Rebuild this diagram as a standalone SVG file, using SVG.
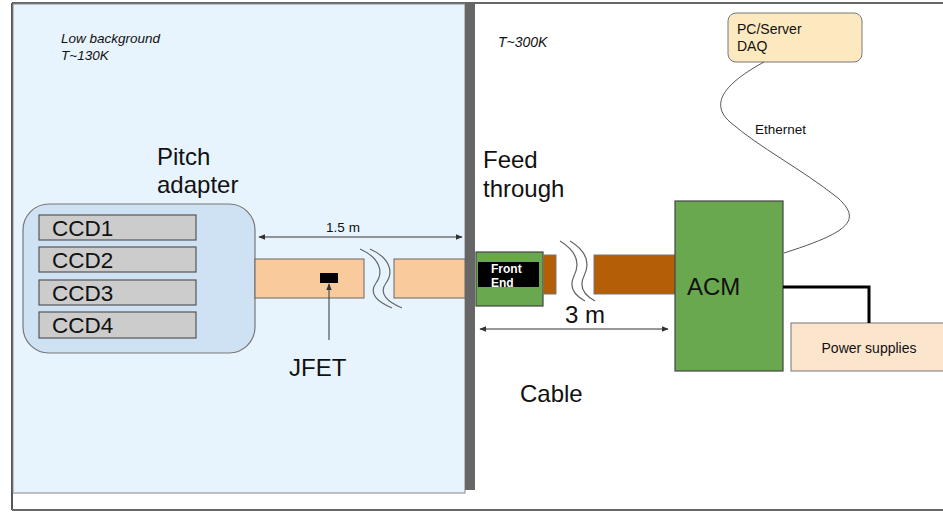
<svg xmlns="http://www.w3.org/2000/svg" width="943" height="512" viewBox="0 0 943 512">
<style>
text{font-family:"Liberation Sans",Arial,sans-serif;fill:#111}
.big{font-size:24px}
.it{font-size:13.5px;font-style:italic}
.sm{font-size:14px}
.ccd{fill:#cccccc;stroke:#555;stroke-width:1.2}
.ccdt{font-size:22.5px}
.cab{fill:#f9cb9c;stroke:#666;stroke-width:1}
.brown{fill:#b45f06;stroke:#777;stroke-width:1}
.green{fill:#6aa84f;stroke:#444;stroke-width:1.2}
.sq{fill:none;stroke:#666;stroke-width:1.2}
.dim{stroke:#333;stroke-width:1;fill:none}
</style>
<defs>
<marker id="ah" viewBox="0 0 10 10" refX="9" refY="5" markerWidth="7" markerHeight="7" orient="auto-start-reverse" markerUnits="userSpaceOnUse">
<path d="M0,1 L10,5 L0,9 z" fill="#333"/>
</marker>
</defs>
<rect width="943" height="512" fill="#fff"/>
<g id="frame">
<line x1="12" y1="3" x2="943" y2="3" stroke="#666" stroke-width="2"/>
<line x1="12" y1="3" x2="12" y2="510" stroke="#555" stroke-width="2"/>
<line x1="12" y1="510" x2="943" y2="510" stroke="#666" stroke-width="2"/>
</g>
<g id="cold-zone">
<rect x="13" y="4" width="452" height="489" fill="#e8f4fd" stroke="#888" stroke-width="1"/>
<text class="it" x="61" y="43">Low background</text>
<text class="it" x="61" y="60">T~130K</text>
</g>
<g id="wall">
<rect x="465" y="3" width="10" height="487" fill="#666"/>
</g>
<text class="it" x="498" y="47" style="font-size:14px">T~300K</text>
<g id="pitch-adapter">
<text class="big" x="157" y="165">Pitch</text>
<text class="big" x="157" y="193">adapter</text>
<rect x="23" y="204" width="232" height="149" rx="26" fill="#cfe2f3" stroke="#777" stroke-width="1.2"/>
</g>
<g id="ccd1"><rect class="ccd" x="39" y="215" width="157" height="25"/><text class="ccdt" x="52" y="236">CCD1</text></g>
<g id="ccd2"><rect class="ccd" x="39" y="247" width="157" height="25"/><text class="ccdt" x="52" y="268">CCD2</text></g>
<g id="ccd3"><rect class="ccd" x="39" y="280" width="157" height="25"/><text class="ccdt" x="52" y="301">CCD3</text></g>
<g id="ccd4"><rect class="ccd" x="39" y="312" width="157" height="26"/><text class="ccdt" x="52" y="333">CCD4</text></g>
<g id="cold-cable">
<rect class="cab" x="255" y="259" width="109" height="39"/>
<rect class="cab" x="394" y="259" width="71" height="39"/>
<path class="sq" d="M360,249 C380,258 384,272 376,283 C368,294 378,302 392,308"/>
<path class="sq" d="M370,249 C390,258 394,272 386,283 C378,294 388,302 402,308"/>
</g>
<g id="jfet">
<rect x="320" y="273" width="18" height="10" fill="#000"/>
<text class="big" x="289" y="376">JFET</text>
</g>
<g id="feedthrough">
<text class="big" x="483" y="168">Feed</text>
<text class="big" x="483" y="197">through</text>
</g>
<g id="front-end">
<rect class="green" x="476" y="252" width="67" height="54"/>
<rect x="478" y="262" width="61" height="25" fill="#000"/>
<text x="491" y="273" font-size="12" font-weight="bold" style="fill:#fff">Front</text>
<text x="491" y="287" font-size="12" font-weight="bold" style="fill:#fff">End</text>
</g>
<g id="warm-cable">
<rect class="brown" x="543" y="255" width="13" height="39"/>
<rect class="brown" x="594" y="255" width="81" height="39"/>
<path class="sq" d="M560,241 C578,252 580,264 574,276 C568,288 576,296 585,301"/>
<path class="sq" d="M570,241 C588,252 590,264 584,276 C578,288 586,296 595,301"/>
<text class="big" x="520" y="402">Cable</text>
</g>
<g id="acm">
<rect class="green" x="675" y="201" width="108" height="170"/>
<text class="big" x="687" y="295">ACM</text>
</g>
<g id="pc-server">
<rect x="728" y="13" width="134" height="49" rx="8" fill="#fde9c0" stroke="#777" stroke-width="1"/>
<text class="sm" x="737" y="34">PC/Server</text>
<text class="sm" x="737" y="51">DAQ</text>
</g>
<g id="power-supplies">
<rect x="791" y="323" width="155" height="48" fill="#fce5cd" stroke="#777" stroke-width="1"/>
<text class="sm" x="869" y="353" text-anchor="middle">Power supplies</text>
</g>
<g id="connectors">
<line class="dim" x1="259" y1="237" x2="462" y2="237" marker-start="url(#ah)" marker-end="url(#ah)"/>
<text x="343" y="232" font-size="13.5" text-anchor="middle">1.5 m</text>
<line class="dim" x1="329" y1="340" x2="329" y2="284" marker-end="url(#ah)"/>
<line class="dim" x1="480" y1="329" x2="668" y2="329" marker-start="url(#ah)" marker-end="url(#ah)"/>
<text class="big" x="565" y="323">3 m</text>
<path d="M764,62 C735,78 705,100 730,122 C760,148 800,168 838,198 C862,220 850,232 784,253" fill="none" stroke="#555" stroke-width="1"/>
<text x="755" y="134" font-size="13.5">Ethernet</text>
<polyline points="783,287 869,287 869,323" fill="none" stroke="#000" stroke-width="3"/>
</g>
</svg>
